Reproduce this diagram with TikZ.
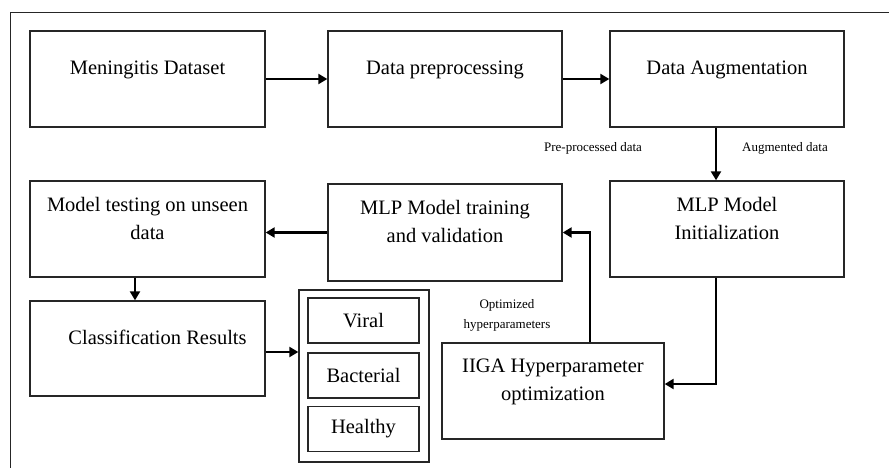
\documentclass[tikz,border=0pt]{standalone}
\usepackage{fontspec}
\setmainfont{Liberation Serif}
\usetikzlibrary{arrows.meta}

\tikzset{
  stage/.style={draw=black!85,line width=1.4pt,minimum width=235pt,minimum height=96pt,
    inner sep=0pt,align=center,text depth=22pt,font=\fontsize{20.5}{28}\selectfont},
  cls/.style={draw=black!85,line width=1.4pt,minimum width=111pt,minimum height=45pt,
    inner sep=0pt,font=\fontsize{20.5}{24}\selectfont},
  flow/.style={line width=2.2pt,-{Triangle[length=9pt,width=10pt]}},
  tag/.style={align=center,font=\fontsize{13}{20}\selectfont}
}

\begin{document}
\begin{tikzpicture}[x=1pt,y=1pt]
\useasboundingbox (0,0) rectangle (889,-468);
% Frame
\draw[line width=1pt,black!85] (10,-468) -- (10,-13) -- (889,-13);

% Top row
\node[stage] (data) at (147.5,-79) {Meningitis Dataset};
\node[stage,minimum width=234pt] (prep) at (445,-79) {Data preprocessing};
\node[stage,minimum width=234pt] (aug) at (727,-79) {Data Augmentation};

% Middle row
\node[stage] (test) at (147.5,-229) {Model testing on unseen\\data};
\node[stage,minimum width=234pt,minimum height=97pt] (train) at (445,-232.5) {MLP Model training\\and validation};
\node[stage,minimum width=234pt] (init) at (727,-229) {MLP Model\\Initialization};

% Bottom row
\node[stage,minimum height=95pt] (result) at (147.5,-348.5) {\hspace*{20pt}Classification Results};
\node[stage,minimum width=222pt] (iiga) at (553,-391) {IIGA Hyperparameter\\optimization};

% Classes
\node[draw=black!85,line width=1.4pt,minimum width=130pt,minimum height=172pt] (classes) at (364,-376) {};
\node[cls] (viral) at (363.5,-320.5) {Viral};
\node[cls] (bact) at (363.5,-375.5) {Bacterial};
\node[cls] (healthy) at (363.5,-429) {Healthy};

% Labels
\node[tag] (lprep) at (593,-148) {Pre-processed data};
\node[tag] (laug) at (785,-148) {Augmented data};
\node[tag] (lopt) at (507,-315) {Optimized\\hyperparameters};

% Connectors
\coordinate (out) at ([yshift=-3.5pt]result.east);
\draw[flow] (data.east) -- (prep.west);
\draw[flow] (prep.east) -- (aug.west);
\draw[flow] ([xshift=-11pt]aug.south) -- ([xshift=-11pt]init.north);
\draw[flow] ([xshift=-11pt]init.south) |- ([yshift=7pt]iiga.east);
\draw[flow] ([xshift=37pt]iiga.north) |- (train.east);
\draw[flow] (train.west) -- (test.east |- train.west);
\draw[flow] ([xshift=-12.5pt]test.south) -- ([xshift=-12.5pt]result.north);
\draw[flow] (out) -- (classes.west |- out);
\end{tikzpicture}
\end{document}
